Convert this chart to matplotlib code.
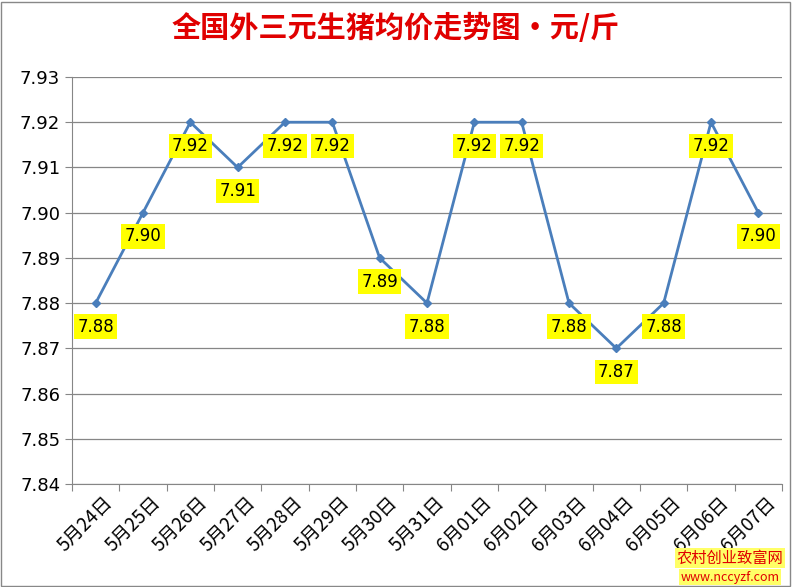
import matplotlib
matplotlib.use("Agg")
import matplotlib.pyplot as plt
from matplotlib.patches import Rectangle

plt.rcParams['font.family'] = ['Noto Sans CJK SC', 'DejaVu Sans']

dates = ["5月24日","5月25日","5月26日","5月27日","5月28日","5月29日","5月30日","5月31日",
         "6月01日","6月02日","6月03日","6月04日","6月05日","6月06日","6月07日"]
prices = [7.88,7.90,7.92,7.91,7.92,7.92,7.89,7.88,7.92,7.92,7.88,7.87,7.88,7.92,7.90]

fig = plt.figure(figsize=(7.92,5.87), dpi=100)
ax = fig.add_axes([72/792, 1-484/587, 710/792, 407/587])
x = list(range(len(dates)))
ax.plot(x, prices, color='#4a7ebb', lw=2.0, marker='D', ms=4.5, mfc='#4a7ebb', mec='#4a7ebb')
ax.set_xlim(-0.5, len(dates)-0.5)
ax.set_ylim(7.84, 7.93)
ax.set_yticks([7.84+0.01*i for i in range(10)])
ax.set_yticklabels([f"{7.84+0.01*i:.2f}" for i in range(10)], fontsize=13, family='DejaVu Sans')
ax.yaxis.grid(True, color='#868686', lw=0.9)
ax.set_axisbelow(True)
ax.set_xticks([i+0.5 for i in range(-1, len(dates))], minor=False)
ax.set_xticklabels([])
ax.tick_params(axis='x', length=5, color='#868686')
ax.tick_params(axis='y', length=5, color='#868686')
for i, d in enumerate(dates):
    ax.annotate(d, (i, 7.84), xytext=(5, -6), textcoords='offset points',
                rotation=45, ha='right', va='top', fontsize=13.5, rotation_mode='anchor')
for s in ['top','right']:
    ax.spines[s].set_visible(False)
for s in ['left','bottom']:
    ax.spines[s].set_color('#868686')
for i, p in enumerate(prices):
    ax.annotate(f"{p:.2f}", (i, p), xytext=(0, -17), textcoords='offset points',
                ha='center', va='center', fontsize=12, family='DejaVu Sans',
                bbox=dict(boxstyle='square,pad=0.2', fc='#ffff00', ec='none'))
fig.text(0.5, 1-28/587, "全国外三元生猪均价走势图·元/斤", ha='center', va='center',
         fontsize=21, fontweight='bold', color='#e00000')
fig.patches.append(Rectangle((1/792, 1/587), 789/792, 584/587, transform=fig.transFigure,
                             fill=False, ec='#888888', lw=1))
fig.text(730/792, 1-558/587, "农村创业致富网", ha='center', va='center', fontsize=11,
         color='#e00000', bbox=dict(boxstyle='square,pad=0.1', fc='#ffff66', ec='none'))
fig.text(730/792, 1-577/587, "www.nccyzf.com", ha='center', va='center', fontsize=9,
         color='#e00000', bbox=dict(boxstyle='square,pad=0.1', fc='#ffff66', ec='none'))
fig.savefig("out.png", dpi=100)
